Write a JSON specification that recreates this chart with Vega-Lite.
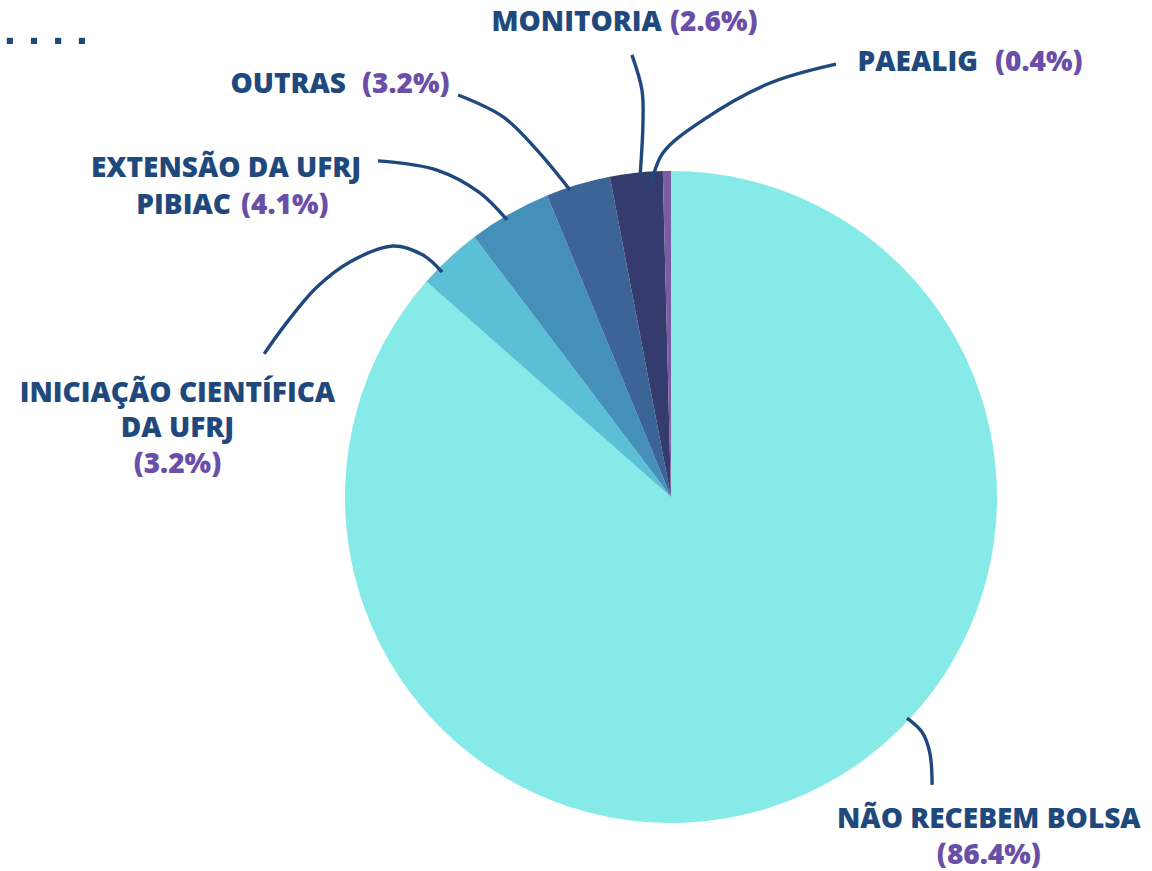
{
  "$schema": "https://vega.github.io/schema/vega-lite/v6.json",
  "width": 1152,
  "height": 871,
  "autosize": {"type": "fit", "contains": "padding"},
  "padding": 0,
  "background": "#ffffff",
  "config": {"view": {"stroke": null}},
  "datasets": {
    "bolsas": [
      {"categoria": "NÃO RECEBEM BOLSA", "pct": 86.4, "ordem": 1},
      {"categoria": "INICIAÇÃO CIENTÍFICA DA UFRJ", "pct": 3.2, "ordem": 2},
      {"categoria": "EXTENSÃO DA UFRJ PIBIAC", "pct": 4.1, "ordem": 3},
      {"categoria": "OUTRAS", "pct": 3.2, "ordem": 4},
      {"categoria": "MONITORIA", "pct": 2.6, "ordem": 5},
      {"categoria": "PAEALIG", "pct": 0.4, "ordem": 6}
    ],
    "guias": [
      {"guia": "NÃO RECEBEM BOLSA", "p": 1, "gx": 0.724, "gy": -0.678},
      {"guia": "NÃO RECEBEM BOLSA", "p": 2, "gx": 0.770, "gy": -0.721},
      {"guia": "NÃO RECEBEM BOLSA", "p": 3, "gx": 0.794, "gy": -0.785},
      {"guia": "NÃO RECEBEM BOLSA", "p": 4, "gx": 0.801, "gy": -0.883},
      {"guia": "INICIAÇÃO", "p": 1, "gx": -1.248, "gy": 0.439},
      {"guia": "INICIAÇÃO", "p": 2, "gx": -1.184, "gy": 0.528},
      {"guia": "INICIAÇÃO", "p": 3, "gx": -1.086, "gy": 0.644},
      {"guia": "INICIAÇÃO", "p": 4, "gx": -0.985, "gy": 0.721},
      {"guia": "INICIAÇÃO", "p": 5, "gx": -0.853, "gy": 0.770},
      {"guia": "INICIAÇÃO", "p": 6, "gx": -0.761, "gy": 0.742},
      {"guia": "INICIAÇÃO", "p": 7, "gx": -0.702, "gy": 0.690},
      {"guia": "EXTENSÃO", "p": 1, "gx": -0.899, "gy": 1.031},
      {"guia": "EXTENSÃO", "p": 2, "gx": -0.718, "gy": 1.003},
      {"guia": "EXTENSÃO", "p": 3, "gx": -0.586, "gy": 0.933},
      {"guia": "EXTENSÃO", "p": 4, "gx": -0.503, "gy": 0.850},
      {"guia": "OUTRAS", "p": 1, "gx": -0.653, "gy": 1.233},
      {"guia": "OUTRAS", "p": 2, "gx": -0.515, "gy": 1.166},
      {"guia": "OUTRAS", "p": 3, "gx": -0.411, "gy": 1.064},
      {"guia": "OUTRAS", "p": 4, "gx": -0.310, "gy": 0.942},
      {"guia": "MONITORIA", "p": 1, "gx": -0.120, "gy": 1.356},
      {"guia": "MONITORIA", "p": 2, "gx": -0.089, "gy": 1.248},
      {"guia": "MONITORIA", "p": 3, "gx": -0.086, "gy": 1.147},
      {"guia": "MONITORIA", "p": 4, "gx": -0.095, "gy": 0.982},
      {"guia": "PAEALIG", "p": 1, "gx": 0.506, "gy": 1.328},
      {"guia": "PAEALIG", "p": 2, "gx": 0.304, "gy": 1.270},
      {"guia": "PAEALIG", "p": 3, "gx": 0.098, "gy": 1.156},
      {"guia": "PAEALIG", "p": 4, "gx": -0.025, "gy": 1.055},
      {"guia": "PAEALIG", "p": 5, "gx": -0.064, "gy": 0.951}
    ],
    "rotulos": [
      {"texto": "MONITORIA", "parte": "nome", "ancora": "direita", "tx": -0.028, "ty": 1.454},
      {"texto": "(2.6%)", "parte": "pct", "ancora": "esquerda", "tx": -0.003, "ty": 1.454},
      {"texto": "PAEALIG", "parte": "nome", "ancora": "direita", "tx": 0.942, "ty": 1.330},
      {"texto": "(0.4%)", "parte": "pct", "ancora": "esquerda", "tx": 0.994, "ty": 1.330},
      {"texto": "OUTRAS", "parte": "nome", "ancora": "direita", "tx": -0.997, "ty": 1.264},
      {"texto": "(3.2%)", "parte": "pct", "ancora": "esquerda", "tx": -0.948, "ty": 1.264},
      {"texto": "EXTENSÃO DA UFRJ", "parte": "nome", "ancora": "centro", "tx": -1.365, "ty": 1.005},
      {"texto": "PIBIAC", "parte": "nome", "ancora": "direita", "tx": -1.350, "ty": 0.893},
      {"texto": "(4.1%)", "parte": "pct", "ancora": "esquerda", "tx": -1.319, "ty": 0.893},
      {"texto": "INICIAÇÃO CIENTÍFICA", "parte": "nome", "ancora": "centro", "tx": -1.514, "ty": 0.315},
      {"texto": "DA UFRJ", "parte": "nome", "ancora": "centro", "tx": -1.514, "ty": 0.208},
      {"texto": "(3.2%)", "parte": "pct", "ancora": "centro", "tx": -1.514, "ty": 0.099},
      {"texto": "NÃO RECEBEM BOLSA", "parte": "nome", "ancora": "centro", "tx": 0.975, "ty": -0.990},
      {"texto": "(86.4%)", "parte": "pct", "ancora": "centro", "tx": 0.975, "ty": -1.102}
    ],
    "pontos": [
      {"px": -2.028, "py": 1.399},
      {"px": -1.954, "py": 1.399},
      {"px": -1.880, "py": 1.399},
      {"px": -1.807, "py": 1.399}
    ]
  },
  "resolve": {"scale": {"color": "independent"}},
  "layer": [
    {
      "data": {"name": "bolsas"},
      "mark": {"type": "arc", "radius": 326},
      "encoding": {
        "x": {"datum": 0, "type": "quantitative", "scale": {"domain": [-2.0583, 1.4755], "nice": false, "zero": false}, "axis": null},
        "y": {"datum": 0, "type": "quantitative", "scale": {"domain": [-1.1472, 1.5245], "nice": false, "zero": false}, "axis": null},
        "theta": {"field": "pct", "type": "quantitative", "stack": true},
        "order": {"field": "ordem", "type": "quantitative"},
        "color": {
          "field": "categoria", "type": "nominal", "legend": null,
          "scale": {
            "domain": ["NÃO RECEBEM BOLSA", "INICIAÇÃO CIENTÍFICA DA UFRJ", "EXTENSÃO DA UFRJ PIBIAC", "OUTRAS", "MONITORIA", "PAEALIG"],
            "range": ["#86EAE8", "#5BBFD5", "#4490B9", "#3D6497", "#353C6D", "#7B5BA2"]
          }
        }
      }
    },
    {
      "data": {"name": "guias"},
      "mark": {"type": "line", "interpolate": "catmull-rom", "stroke": "#1F497D", "strokeWidth": 3.4, "strokeCap": "butt"},
      "encoding": {
        "x": {"field": "gx", "type": "quantitative"},
        "y": {"field": "gy", "type": "quantitative"},
        "detail": {"field": "guia"},
        "order": {"field": "p", "type": "quantitative"}
      }
    },
    {
      "data": {"name": "pontos"},
      "mark": {"type": "square", "size": 38, "filled": true, "color": "#1F497D", "opacity": 1},
      "encoding": {
        "x": {"field": "px", "type": "quantitative"},
        "y": {"field": "py", "type": "quantitative"}
      }
    },
    {
      "data": {"name": "rotulos"},
      "transform": [{"filter": "datum.ancora === 'direita'"}],
      "mark": {"type": "text", "align": "right", "baseline": "middle", "font": "Open Sans", "fontWeight": 800, "fontSize": 28},
      "encoding": {
        "x": {"field": "tx", "type": "quantitative"},
        "y": {"field": "ty", "type": "quantitative"},
        "text": {"field": "texto"},
        "color": {"field": "parte", "type": "nominal", "legend": null, "scale": {"domain": ["nome", "pct"], "range": ["#1F497D", "#6A4FA9"]}}
      }
    },
    {
      "data": {"name": "rotulos"},
      "transform": [{"filter": "datum.ancora === 'esquerda'"}],
      "mark": {"type": "text", "align": "left", "baseline": "middle", "font": "Open Sans", "fontWeight": 800, "fontSize": 28},
      "encoding": {
        "x": {"field": "tx", "type": "quantitative"},
        "y": {"field": "ty", "type": "quantitative"},
        "text": {"field": "texto"},
        "color": {"field": "parte", "type": "nominal", "legend": null, "scale": {"domain": ["nome", "pct"], "range": ["#1F497D", "#6A4FA9"]}}
      }
    },
    {
      "data": {"name": "rotulos"},
      "transform": [{"filter": "datum.ancora === 'centro'"}],
      "mark": {"type": "text", "align": "center", "baseline": "middle", "font": "Open Sans", "fontWeight": 800, "fontSize": 28},
      "encoding": {
        "x": {"field": "tx", "type": "quantitative"},
        "y": {"field": "ty", "type": "quantitative"},
        "text": {"field": "texto"},
        "color": {"field": "parte", "type": "nominal", "legend": null, "scale": {"domain": ["nome", "pct"], "range": ["#1F497D", "#6A4FA9"]}}
      }
    }
  ]
}
